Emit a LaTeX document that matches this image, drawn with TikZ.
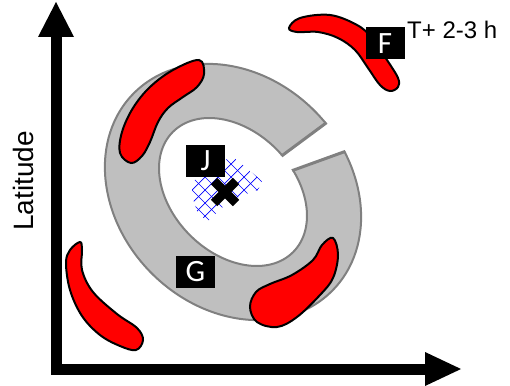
\documentclass[tikz,border=0pt]{standalone}
\usepackage{fontspec}
\setmainfont{Liberation Sans}
\newfontfamily\boxfont{Carlito}
\begin{document}
\begin{tikzpicture}[x=1pt,y=-1pt,
  blob/.style={fill=red, draw=black, line width=2pt},
  lbl/.style={fill=black, text=white, font=\boxfont\fontsize{31}{31}\selectfont, minimum width=39pt, minimum height=32pt, inner sep=0pt},
  ringline/.style={draw=gray, line width=2pt},
  axis/.style={line width=11pt, line join=miter},
  gridline/.style={draw=blue, line width=0.7pt}]
\useasboundingbox (0,0) rectangle (510,385);
\coordinate (c) at (233,192);
% ring
\begin{scope}
  \clip (233,192) -- (434,43) -- (434,-100) -- (-100,-100) -- (-100,600) -- (600,600) -- (600,60) -- cycle;
  \fill[gray!50, even odd rule, rotate around={-45:(c)}] (c) ellipse [x radius=140, y radius=115] (c) ellipse [x radius=85, y radius=61];
  \draw[ringline, rotate around={-45:(c)}] (c) ellipse [x radius=140, y radius=115] (c) ellipse [x radius=85, y radius=61];
\end{scope}
\begin{scope}[even odd rule, rotate around={-45:(c)}]
  \clip (c) ellipse [x radius=141, y radius=116] (c) ellipse [x radius=84, y radius=60];
  \begin{scope}[rotate around={45:(c)}]
    \draw[draw=gray, line width=3pt] (c) -- (434,43) (c) -- (468,107);
  \end{scope}
\end{scope}
% red blobs
\draw[blob] plot[smooth cycle, tension=0.6] coordinates {(199,60) (204,74) (197,87) (183,97) (168,108) (158,122) (150,142) (142,156) (131,163) (120,153) (122,132) (133,108) (150,87) (173,70)};
\draw[blob] plot[smooth cycle, tension=0.6] coordinates {(333,238) (338,255) (333,278) (320,295) (297,317) (277,327) (257,322) (250,307) (256,292) (270,284) (292,275) (313,260) (322,245)};
\draw[blob] plot[smooth cycle, tension=0.6] coordinates {(80,242) (82,250) (82,270) (93,292) (117,314) (137,328) (143,340) (136,350) (120,346) (100,335) (82,316) (70,290) (66,263) (70,250)};
\draw[blob] plot[smooth cycle, tension=0.6] coordinates {(289,28) (300,18) (330,15) (357,25) (372,38) (387,60) (398,78) (398,87) (390,91) (380,85) (368,68) (355,50) (338,38) (318,32) (297,32)};
% blue grid
\begin{scope}
  \clip (192,182) -- (212,168) -- (232,156) -- (262,181) -- (258,190) -- (240,196) -- (224,206) -- (208,221) -- (198,214) -- (192,196) -- cycle;
  \foreach \a in {100,113,...,290} {
    \draw[gridline] (\a,150) -- (\a+80,230);
    \draw[gridline] (\a,230) -- (\a+80,150);
  }
\end{scope}
% X marker
\draw[line width=9pt] (214,181) -- (236,203) (236,181) -- (214,203);
% labels
\node[lbl] (J) at (205.5,160.5) {J};
\node[lbl] (G) at (195.5,272) {G};
\node[lbl] (F) at (385,43.5) {F};
\node[anchor=base west, inner sep=0pt, font=\fontsize{24}{24}\selectfont] (T) at (407,39) {T+ 2-3 h};
\node[rotate=90, inner sep=0pt, font=\fontsize{28}{28}\selectfont] (lat) at (23,181) {Latitude};
% axes
\draw[axis] (56,37) -- (56,369) -- (426,369);
\fill (38,37) -- (56,2) -- (74,37) -- cycle;
\fill (425,352) -- (461,369) -- (425,386) -- cycle;
\end{tikzpicture}
\end{document}
